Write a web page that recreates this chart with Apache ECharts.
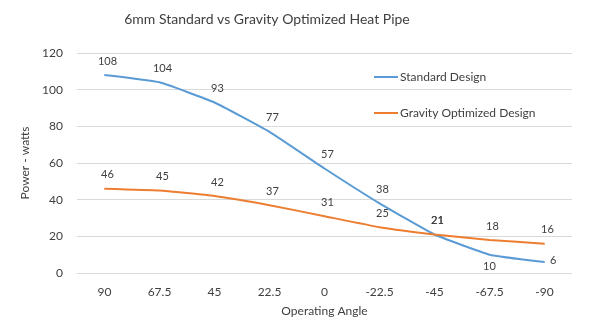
<!DOCTYPE html>
<html><head><meta charset="utf-8">
<script src="https://cdn.jsdelivr.net/npm/echarts@6/dist/echarts.min.js"></script>
<style>html,body{margin:0;padding:0;background:#fff}#c{width:591px;height:334px}</style>
</head><body><div id="c"></div>
<script>
const categories = ['90','67.5','45','22.5','0','-22.5','-45','-67.5','-90'];
const standardValues = [108,104,93,77,57,38,21,10,6];
const gravityValues = [46,45,42,37,31,25,21,18,16];
const yTicks = [0,20,40,60,80,100,120];

const FONT = 'Lato, "Open Sans", sans-serif';
const TXT = '#404040';

function buildData(vals, special) {
  return vals.map((v, i) => special[i] ? { value: v, label: special[i] } : v);
}
const stdSpecial = {
  7: { position: 'bottom', distance: 6, offset: [0, 0] },
  8: { position: 'right', distance: 5, offset: [0, -2] }
};

const chart = echarts.init(document.getElementById('c'));
chart.setOption({
  animation: false,
  textStyle: { fontFamily: FONT },
  title: {
    text: '6mm Standard vs Gravity Optimized Heat Pipe',
    left: 262, top: 7, textAlign: 'center',
    textStyle: { fontFamily: FONT, fontSize: 14, fontWeight: 'normal', color: TXT }
  },
  legend: {
    orient: 'vertical', left: 369, top: 66, itemGap: 24,
    itemWidth: 24, itemHeight: 2, icon: 'rect',
    textStyle: { fontFamily: FONT, fontSize: 12, color: TXT, padding: [0,0,0,-3] },
    data: ['Standard Design', 'Gravity Optimized Design']
  },
  grid: { left: 77, right: 19, top: 53, bottom: 61 },
  xAxis: {
    type: 'category', data: categories, boundaryGap: true,
    axisLine: { show: false }, axisTick: { show: false },
    axisLabel: { fontFamily: FONT, fontSize: 12, color: TXT, margin: 13 },
    name: 'Operating Angle', nameLocation: 'middle', nameGap: 32,
    nameTextStyle: { fontFamily: FONT, fontSize: 12, color: TXT }
  },
  yAxis: {
    type: 'value', min: yTicks[0], max: yTicks[yTicks.length-1], interval: 20,
    axisLine: { show: false }, axisTick: { show: false },
    axisLabel: { fontFamily: FONT, fontSize: 12, color: TXT, margin: 14 },
    splitLine: { lineStyle: { color: '#d9d9d9', width: 1 } },
    name: 'Power - watts', nameLocation: 'middle', nameGap: 45,
    nameTextStyle: { fontFamily: FONT, fontSize: 12, color: TXT }
  },
  series: [
    {
      name: 'Standard Design', type: 'line', smooth: 0.12,
      data: buildData(standardValues, stdSpecial),
      showSymbol: true, showAllSymbol: true, symbol: 'circle', symbolSize: 1,
      lineStyle: { color: '#5B9BD5', width: 2 }, itemStyle: { color: '#5B9BD5' },
      label: { show: true, position: 'top', distance: 8, offset: [3, 0], fontFamily: FONT, fontSize: 11, color: TXT }
    },
    {
      name: 'Gravity Optimized Design', type: 'line', smooth: 0.12,
      data: buildData(gravityValues, {}),
      showSymbol: true, showAllSymbol: true, symbol: 'circle', symbolSize: 1,
      lineStyle: { color: '#ED7D31', width: 2 }, itemStyle: { color: '#ED7D31' },
      label: { show: true, position: 'top', distance: 8, offset: [3, 0], fontFamily: FONT, fontSize: 11, color: TXT }
    }
  ]
});
</script></body></html>
